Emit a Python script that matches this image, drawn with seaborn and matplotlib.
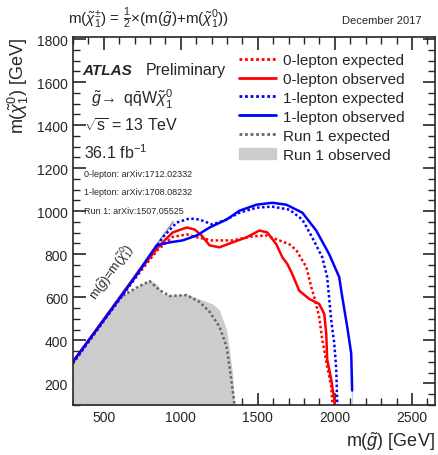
import numpy as np
import pandas as pd
import seaborn as sns
import matplotlib.pyplot as plt
from matplotlib.lines import Line2D
from matplotlib.patches import Patch
from matplotlib.ticker import MultipleLocator

# contours: m(gluino), m(neutralino) in GeV
red_exp_x = [300, 500, 700, 850, 947, 1038, 1109, 1206, 1336, 1465, 1556, 1640, 1705, 1750, 1815,
             1847, 1866, 1898, 1918, 1950, 1976, 1985]
red_exp_y = [295, 490, 685, 820, 880, 892, 878, 864, 864, 883, 887, 864, 846, 818, 740,
             647, 601, 509, 403, 279, 186, 100]
red_obs_x = [300, 500, 734, 863, 947, 1038, 1090, 1135, 1187, 1251, 1336, 1426, 1510, 1562, 1620,
             1659, 1692, 1724, 1769, 1834, 1898, 1931, 1944, 1950, 1976, 1996, 1998]
red_obs_y = [300, 495, 726, 841, 901, 924, 915, 887, 841, 832, 855, 878, 910, 901, 846,
             786, 754, 707, 630, 592, 569, 523, 431, 311, 219, 126, 100]
blue_exp_x = [300, 500, 700, 883, 973, 1057, 1122, 1206, 1297, 1381, 1491, 1594, 1705, 1789, 1853,
              1918, 1950, 1976, 1996, 2009, 2015, 2015]
blue_exp_y = [295, 490, 685, 878, 947, 966, 961, 938, 961, 993, 1016, 1021, 1007, 961, 878,
              786, 694, 495, 385, 265, 126, 100]
blue_obs_x = [300, 500, 700, 844, 928, 1012, 1103, 1187, 1297, 1381, 1491, 1594, 1685, 1789, 1879,
              1963, 2028, 2048, 2080, 2106, 2112, 2112]
blue_obs_y = [300, 495, 690, 841, 855, 864, 887, 924, 961, 1002, 1030, 1039, 1030, 993, 910,
              800, 694, 601, 463, 339, 233, 100]
run1_exp_x = [300, 450, 604, 714, 798, 863, 928, 1038, 1122, 1187, 1251, 1297, 1316, 1336, 1349]
run1_exp_y = [290, 440, 598, 645, 675, 633, 606, 610, 578, 532, 463, 371, 279, 172, 100]
run1_obs_x = [300, 450, 604, 714, 798, 844, 883, 947, 1038, 1122, 1206, 1251, 1297, 1316, 1336, 1349]
run1_obs_y = [292, 442, 601, 647, 680, 661, 615, 610, 615, 592, 569, 541, 449, 357, 246, 100]
diag = [300, 950]

sns.set_style("ticks")
plt.rcParams['font.family'] = ['Liberation Sans', 'DejaVu Sans']
plt.rcParams['mathtext.fontset'] = 'custom'
plt.rcParams['mathtext.rm'] = 'Liberation Sans'
plt.rcParams['mathtext.it'] = 'Liberation Sans:italic'
plt.rcParams['mathtext.bf'] = 'Liberation Sans:bold'

fig = plt.figure(figsize=(4.39, 4.56), dpi=100)
ax = fig.add_axes([0.166, 0.11, 0.825, 0.807])

ax.fill_between(run1_obs_x, 100, run1_obs_y, color='#cccccc', lw=0)
ax.plot(diag, diag, color='#999999', lw=1.2)

dot = (0, (1, 1))
curves = [
    (run1_exp_x, run1_exp_y, '#666666', dot),
    (red_exp_x, red_exp_y, 'red', dot),
    (blue_exp_x, blue_exp_y, 'blue', dot),
    (red_obs_x, red_obs_y, 'red', '-'),
    (blue_obs_x, blue_obs_y, 'blue', '-'),
]
for cx, cy, col, ls in curves:
    df = pd.DataFrame({'x': cx, 'y': cy})
    sns.lineplot(data=df, x='x', y='y', sort=False, color=col, lw=1.8,
                 linestyle=ls, ax=ax)

ax.set_xlim(300, 2650)
ax.set_ylim(100, 1810)
ax.xaxis.set_major_locator(MultipleLocator(500))
ax.xaxis.set_minor_locator(MultipleLocator(100))
ax.yaxis.set_major_locator(MultipleLocator(200))
ax.yaxis.set_minor_locator(MultipleLocator(50))
ax.tick_params(which='both', direction='in', top=True, right=True, labelsize=10)
ax.tick_params(which='major', length=9, width=1.2)
ax.tick_params(which='minor', length=5, width=1)
for s in ax.spines.values():
    s.set_linewidth(1.2)
ax.set_xlabel(r'm($\tilde{g}$) [GeV]', fontsize=13, loc='right')
ax.set_ylabel(r'm($\tilde{\chi}_1^0$) [GeV]', fontsize=13, loc='top')

handles = [
    Line2D([], [], color='red', lw=2, linestyle=dot),
    Line2D([], [], color='red', lw=2),
    Line2D([], [], color='blue', lw=2, linestyle=dot),
    Line2D([], [], color='blue', lw=2),
    Line2D([], [], color='#666666', lw=2, linestyle=dot),
    Patch(color='#cccccc'),
]
labels = ['0-lepton expected', '0-lepton observed', '1-lepton expected',
          '1-lepton observed', 'Run 1 expected', 'Run 1 observed']
ax.legend(handles, labels, loc='upper left', bbox_to_anchor=(0.43, 0.985),
          frameon=False, fontsize=11, handlelength=2.4, labelspacing=0.32,
          handletextpad=0.45, borderpad=0.2)

ax.text(0.025, 0.9, 'ATLAS', transform=ax.transAxes, fontsize=11,
        fontweight='bold', fontstyle='italic')
ax.text(0.2, 0.9, 'Preliminary', transform=ax.transAxes, fontsize=11.5)
ax.text(0.05, 0.82, r'$\tilde{g}\!\rightarrow$ q$\bar{\rm q}$W$\tilde{\chi}_1^0$', transform=ax.transAxes,
        fontsize=11.5)
ax.text(0.03, 0.745, r'$\sqrt{\rm s}$ = 13 TeV', transform=ax.transAxes, fontsize=11.5)
ax.text(0.03, 0.67, r'36.1 fb$^{-1}$', transform=ax.transAxes, fontsize=11.5)
ax.text(0.03, 0.622, '0-lepton: arXiv:1712.02332', transform=ax.transAxes, fontsize=6.5)
ax.text(0.03, 0.572, '1-lepton: arXiv:1708.08232', transform=ax.transAxes, fontsize=6.5)
ax.text(0.03, 0.522, 'Run 1: arXiv:1507.05525', transform=ax.transAxes, fontsize=6.5)
ax.text(550, 720, r'm($\tilde{g}$)=m($\tilde{\chi}_1^0$)', rotation=54, fontsize=9,
        ha='center', va='center', rotation_mode='anchor')

fig.text(0.155, 0.96, r'm($\tilde{\chi}_1^{\pm}$) = $\frac{1}{2}$$\times$(m($\tilde{g}$)+m($\tilde{\chi}_1^0$))',
         fontsize=11, va='center')
fig.text(0.96, 0.955, 'December 2017', fontsize=8, ha='right', va='center')

fig.savefig('out.png', dpi=100)
